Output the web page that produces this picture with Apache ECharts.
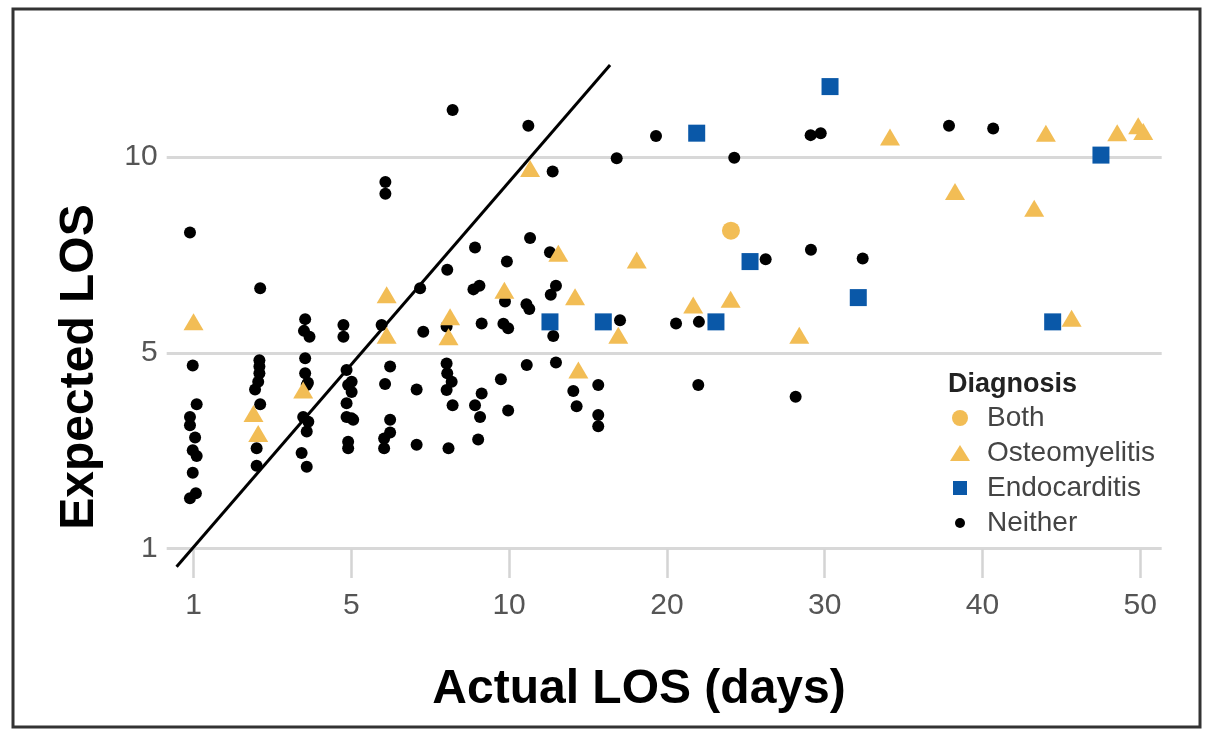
<!DOCTYPE html>
<html>
<head>
<meta charset="utf-8">
<title>Expected vs actual LOS</title>
<script src="https://cdn.jsdelivr.net/npm/echarts@6/dist/echarts.min.js"></script>
<style>
  html, body { margin: 0; padding: 0; background: #fff; }
  #chart { width: 1206px; height: 729px; }
</style>
</head>
<body>
<div id="chart"></div>
<script>
// axis breakpoints: the original scale is linear between these ticks
const xTicks = [1, 5, 10, 20, 30, 40, 50]
const yTicks = [1, 5, 10]

// [actual LOS, expected LOS]
const both = [[24.06, 8.12]]

const osteomyelitis = [
  [1.0, 5.79], [2.52, 3.76], [2.64, 3.35], [3.78, 4.24], [6.12, 6.48], [6.12, 5.45],
  [8.13, 5.92], [8.08, 5.41], [9.85, 6.6], [11.33, 9.71], [13.12, 7.54], [18.09, 7.37],
  [14.18, 6.43], [16.92, 5.45], [21.67, 6.22], [14.39, 4.65], [24.04, 6.37], [28.39, 5.45],
  [34.14, 10.51], [44.02, 10.61], [48.54, 10.62], [49.87, 10.8], [50.19, 10.65],
  [38.26, 9.12], [43.28, 8.69], [45.65, 5.88],
]

const endocarditis = [
  [12.59, 5.79], [15.97, 5.79], [23.11, 5.79], [25.27, 7.33], [32.13, 6.41],
  [21.89, 10.61], [30.34, 11.8], [47.51, 10.05], [44.45, 5.79],
]

const neither = [
  [0.91, 8.07], [2.69, 6.65], [3.83, 5.86], [3.8, 5.56], [3.94, 5.41], [4.8, 5.71], [4.8, 5.41],
  [0.98, 4.74], [2.67, 4.85], [2.67, 4.72], [2.67, 4.58], [2.64, 4.41], [2.56, 4.25],
  [3.83, 4.89], [3.83, 4.58], [3.9, 4.39], [4.88, 4.65], [5.01, 4.41], [5.01, 4.2],
  [1.08, 3.95], [0.91, 3.69], [0.91, 3.52], [1.04, 3.27], [0.98, 3.01], [1.08, 2.89],
  [0.98, 2.55], [1.06, 2.13], [0.91, 2.03],
  [2.69, 3.95], [2.6, 3.05], [2.6, 2.69],
  [3.87, 4.34], [3.78, 3.69], [3.91, 3.59], [3.87, 3.39], [3.74, 2.95], [3.87, 2.67],
  [4.92, 4.34], [4.88, 3.97], [4.88, 3.69], [5.01, 3.66], [4.92, 3.18], [4.92, 3.05],
  [6.08, 9.36], [6.08, 9.06], [8.92, 7.69], [11.33, 7.93], [9.93, 7.33], [8.04, 7.12],
  [8.87, 6.62], [9.06, 6.71], [9.87, 6.31], [11.1, 6.24], [11.28, 6.12],
  [7.18, 6.65], [5.96, 5.71], [7.28, 5.54], [8.02, 5.67], [9.13, 5.75], [9.82, 5.74], [9.97, 5.63],
  [6.23, 4.72], [6.07, 4.36], [7.07, 4.25], [8.02, 4.78], [8.04, 4.58], [8.18, 4.41],
  [8.02, 4.24], [9.13, 4.17], [9.74, 4.46], [11.12, 4.75],
  [8.21, 3.93], [8.92, 3.93], [9.08, 3.69], [9.97, 3.82], [5.06, 3.63], [6.23, 3.63],
  [6.23, 3.37], [6.04, 3.25], [6.04, 3.05], [7.07, 3.12], [8.08, 3.05], [9.02, 3.23],
  [8.21, 11.2], [11.22, 10.8], [12.76, 9.63], [16.82, 9.97],
  [12.59, 7.57], [12.97, 6.71], [12.64, 6.48], [17.03, 5.83], [20.58, 5.75], [22.03, 5.79],
  [12.8, 5.43], [12.97, 4.8], [15.65, 4.34], [14.07, 4.22], [14.28, 3.91], [15.65, 3.73],
  [15.65, 3.5], [21.99, 4.34],
  [19.31, 10.54], [29.11, 10.56], [29.75, 10.61], [24.27, 9.98], [26.26, 7.39], [29.13, 7.63],
  [32.41, 7.41], [28.16, 4.1], [37.88, 10.8], [40.68, 10.73],
]

// diagonal reference line, start and end
const refLine = [[0.57, 0.63], [16.4, 12.35]]

const ORANGE = '#f2bd55'
const BLUE = '#0a58a8'
const FONT = '"Liberation Sans", Arial, sans-serif'

// piecewise-linear position of a value between the tick breakpoints
function toPos(v, ticks) {
  let i = 0
  while (i < ticks.length - 2 && v > ticks[i + 1]) i++
  return i + (v - ticks[i]) / (ticks[i + 1] - ticks[i])
}

function place(points) {
  return points.map(([x, y]) => [toPos(x, xTicks), toPos(y, yTicks)])
}

const xIdx = xTicks.map((_, i) => i)
const yIdx = yTicks.map((_, i) => i)

const chart = echarts.init(document.getElementById('chart'))

chart.setOption({
  animation: false,
  grid: { left: 166.7, right: 44.3, top: 40, bottom: 151.1 },
  xAxis: {
    type: 'value',
    min: -0.17,
    max: 6.136,
    axisLine: { show: false, onZero: false },
    axisTick: {
      show: true,
      inside: true,
      length: 29,
      customValues: xIdx,
      lineStyle: { color: '#d4d4d4', width: 2.5 },
    },
    axisLabel: {
      customValues: xIdx,
      formatter: (v) => String(xTicks[Math.round(v)]),
      margin: 13,
      fontSize: 30,
      color: '#555',
      fontFamily: FONT,
    },
    splitLine: { show: false },
  },
  yAxis: {
    type: 'value',
    min: -0.15,
    max: 2.598,
    axisLine: { show: false, onZero: false },
    axisTick: { show: false, customValues: yIdx },
    axisLabel: {
      customValues: yIdx,
      formatter: (v) => String(yTicks[Math.round(v)]),
      margin: 9,
      fontSize: 30,
      color: '#555',
      fontFamily: FONT,
    },
    splitLine: { show: true, lineStyle: { color: '#d8d8d8', width: 3 } },
  },
  title: {
    text: 'Diagnosis',
    left: 948,
    top: 371,
    padding: 0,
    textStyle: { fontSize: 27, fontWeight: 'bold', color: '#222', fontFamily: FONT },
  },
  legend: {
    orient: 'vertical',
    left: 950,
    top: 404,
    padding: 0,
    itemWidth: 20,
    itemHeight: 20,
    itemGap: 7,
    selectedMode: false,
    formatter: (name) => `{t|${name}}`,
    textStyle: {
      rich: {
        t: { padding: [0, 0, 0, 12], fontSize: 28, lineHeight: 30, color: '#444', fontFamily: FONT },
      },
    },
    data: [
      { name: 'Both', icon: 'path://M0,0M20,20M10,2A8,8,0,1,1,10,18A8,8,0,1,1,10,2Z' },
      { name: 'Osteomyelitis', icon: 'path://M0,0M20,20M10,2L20,18L0,18Z' },
      { name: 'Endocarditis', icon: 'path://M0,0M20,20M3,3H17V17H3Z' },
      { name: 'Neither', icon: 'path://M0,0M20,20M10,5A5,5,0,1,1,10,15A5,5,0,1,1,10,5Z' },
    ],
  },
  graphic: [
    {
      type: 'rect',
      shape: { x: 13, y: 9, width: 1187, height: 718 },
      style: { fill: 'none', stroke: '#333', lineWidth: 3 },
      silent: true,
    },
    {
      type: 'text',
      x: 639,
      y: 690,
      style: {
        text: 'Actual LOS (days)',
        fontSize: 48,
        fontWeight: 'bold',
        fontFamily: FONT,
        fill: '#000',
        align: 'center',
        verticalAlign: 'middle',
      },
    },
    {
      type: 'text',
      x: 80,
      y: 367,
      rotation: Math.PI / 2,
      style: {
        text: 'Expected LOS',
        fontSize: 48,
        fontWeight: 'bold',
        fontFamily: FONT,
        fill: '#000',
        align: 'center',
        verticalAlign: 'middle',
      },
    },
  ],
  series: [
    {
      name: 'ref',
      type: 'line',
      data: place(refLine),
      symbol: 'none',
      clip: false,
      z: 1,
      lineStyle: { color: '#000', width: 3 },
    },
    {
      name: 'Neither',
      type: 'scatter',
      data: place(neither),
      symbol: 'circle',
      symbolSize: 12,
      z: 2,
      itemStyle: { color: '#000', opacity: 1 },
    },
    {
      name: 'Osteomyelitis',
      type: 'scatter',
      data: place(osteomyelitis),
      symbol: 'triangle',
      symbolSize: [20, 17],
      z: 3,
      itemStyle: { color: ORANGE, opacity: 1 },
    },
    {
      name: 'Endocarditis',
      type: 'scatter',
      data: place(endocarditis),
      symbol: 'rect',
      symbolSize: 17,
      z: 3,
      itemStyle: { color: BLUE, opacity: 1 },
    },
    {
      name: 'Both',
      type: 'scatter',
      data: place(both),
      symbol: 'circle',
      symbolSize: 18,
      z: 3,
      itemStyle: { color: ORANGE, opacity: 1 },
    },
  ],
})
</script>
</body>
</html>
